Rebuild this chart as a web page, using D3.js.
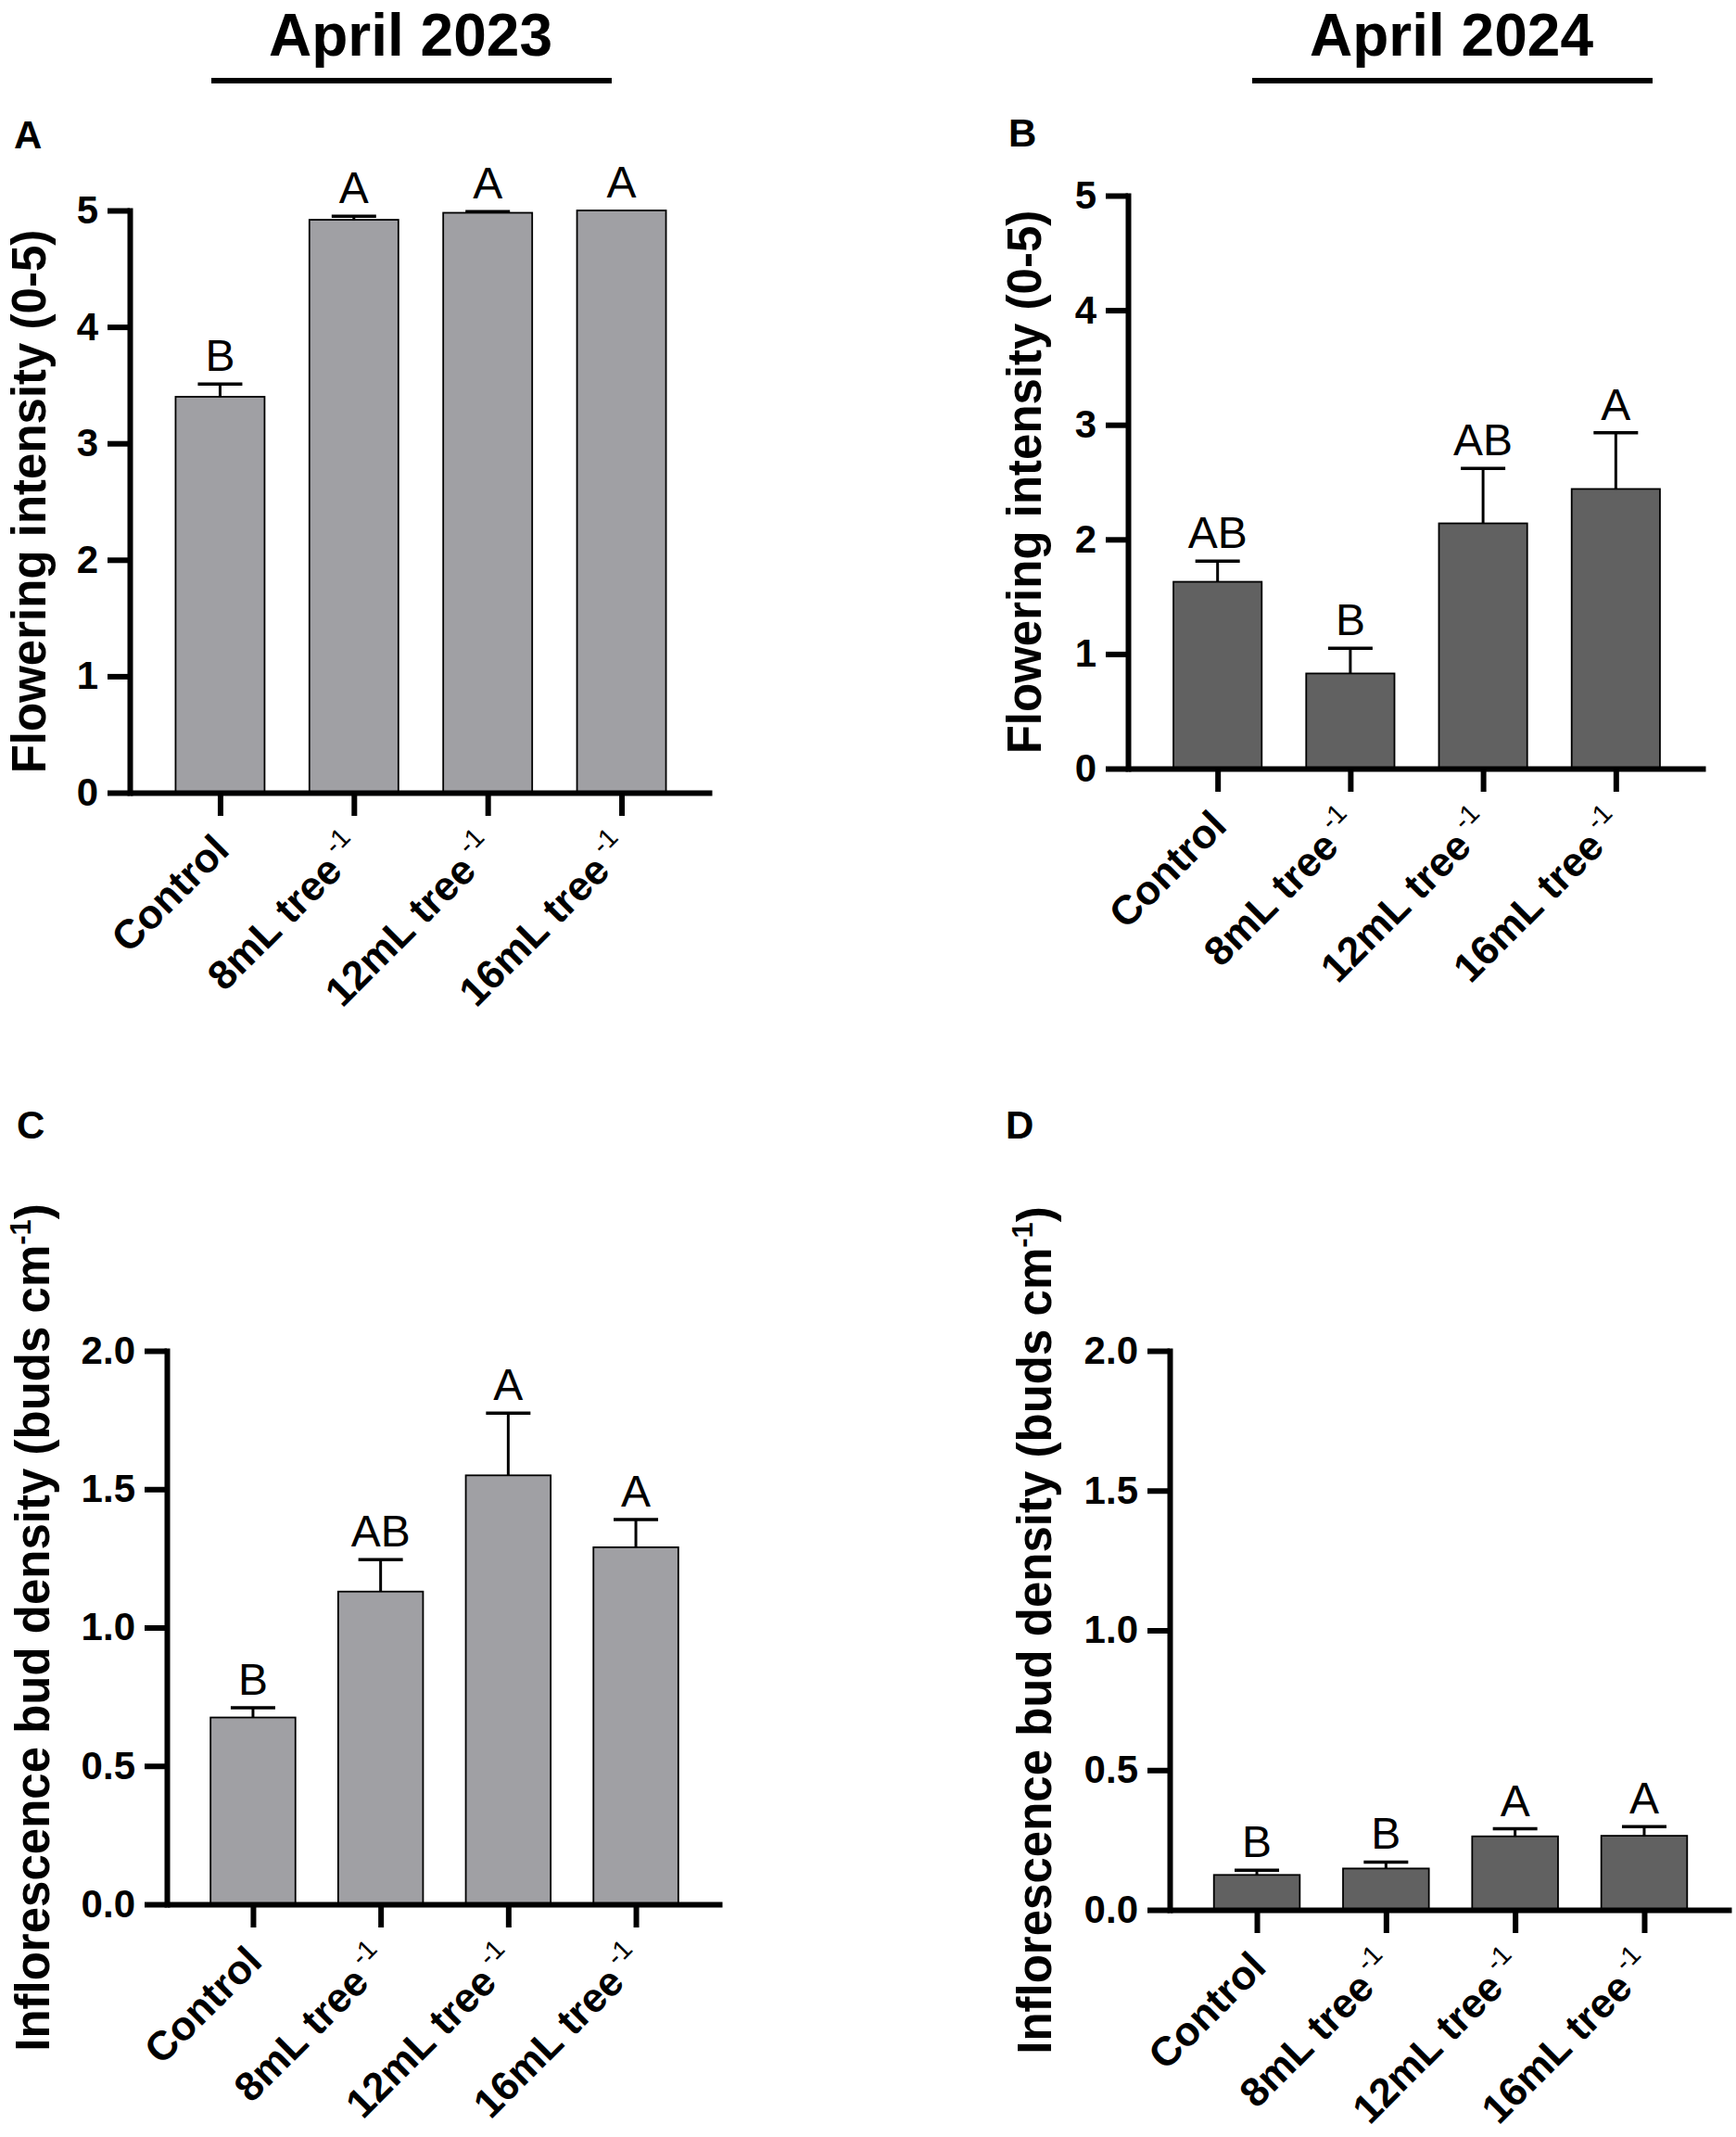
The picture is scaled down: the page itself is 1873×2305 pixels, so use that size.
<!DOCTYPE html>
<html>
<head>
<meta charset="utf-8">
<script src="https://cdn.jsdelivr.net/npm/d3@7"></script>
<style>
  body { margin: 0; background: #fff; }
  text { font-family: "Liberation Sans", Arial, sans-serif; }
</style>
</head>
<body>
<svg id="chart" width="1873" height="2305"></svg>
<script>
// treatments on the x axis (superscript part kept separate)
var categories = ["Control", "8mL tree", "12mL tree", "16mL tree"];
var catSuper = ["", "-1", "-1", "-1"];

// A: flowering intensity, April 2023
var intensity2023 = [3.40, 4.92, 4.98, 5.00];
var intensity2023Err = [0.11, 0.03, 0.01, 0];
var intensity2023Letters = ["B", "A", "A", "A"];

// B: flowering intensity, April 2024
var intensity2024 = [1.63, 0.83, 2.14, 2.44];
var intensity2024Err = [0.18, 0.22, 0.48, 0.49];
var intensity2024Letters = ["AB", "B", "AB", "A"];

// C: inflorescence bud density, April 2023
var density2023 = [0.675, 1.13, 1.55, 1.29];
var density2023Err = [0.035, 0.115, 0.225, 0.10];
var density2023Letters = ["B", "AB", "A", "A"];

// D: inflorescence bud density, April 2024
var density2024 = [0.125, 0.148, 0.263, 0.265];
var density2024Err = [0.017, 0.023, 0.027, 0.033];
var density2024Letters = ["B", "B", "A", "A"];

var intensityTicks = [0, 1, 2, 3, 4, 5];
var densityTicks = [0, 0.5, 1.0, 1.5, 2.0];

var svg = d3.select("#chart");

/* column headers */
var headers = [
    {text: "April 2023", cx: 443, x1: 228, x2: 660},
    {text: "April 2024", cx: 1566, x1: 1351, x2: 1783}
];
headers.forEach(function(h) {
    svg.append("text")
        .attr("x", h.cx).attr("y", 60)
        .attr("text-anchor", "middle")
        .style("font-size", "64px").style("font-weight", "bold")
        .text(h.text);
    svg.append("line")
        .attr("x1", h.x1).attr("x2", h.x2)
        .attr("y1", 87).attr("y2", 87)
        .attr("stroke", "#000").attr("stroke-width", 6);
});

function drawPanel(p) {
    var g = svg.append("g");

    var y = d3.scaleLinear().domain([0, p.ymax]).range([p.y0, p.y1]);
    var x = d3.scalePoint().domain(categories).range([p.ax, p.xEnd]).padding(0.675);
    var barW = x.step() * 0.665;

    // panel letter
    g.append("text")
        .attr("x", p.lx).attr("y", p.ly)
        .style("font-size", "42px").style("font-weight", "bold")
        .text(p.label);

    // bars
    g.selectAll("rect.bar")
        .data(p.values)
        .enter().append("rect")
        .attr("class", "bar")
        .attr("x", function(d, i) { return x(categories[i]) - barW / 2; })
        .attr("width", barW)
        .attr("y", function(d) { return y(d); })
        .attr("height", function(d) { return y(0) - y(d); })
        .attr("fill", p.fill)
        .attr("stroke", "#000")
        .attr("stroke-width", 1.8);

    // upper error bars + group letters
    p.values.forEach(function(v, i) {
        var cx = x(categories[i]);
        var top = y(v + p.err[i]);
        if (p.err[i] > 0) {
            g.append("line")
                .attr("x1", cx).attr("x2", cx)
                .attr("y1", y(v)).attr("y2", top)
                .attr("stroke", "#000").attr("stroke-width", 3);
            g.append("line")
                .attr("x1", cx - 24).attr("x2", cx + 24)
                .attr("y1", top).attr("y2", top)
                .attr("stroke", "#000").attr("stroke-width", 3.5);
        }
        g.append("text")
            .attr("x", cx).attr("y", top - 14)
            .attr("text-anchor", "middle")
            .style("font-size", "48px")
            .text(p.letters[i]);
    });

    // y axis
    var yAxis = g.append("g")
        .attr("transform", "translate(" + p.ax + ",0)")
        .call(d3.axisLeft(y)
            .tickValues(p.ticks)
            .tickFormat(p.fmt)
            .tickSize(24)
            .tickSizeOuter(0)
            .tickPadding(10));
    yAxis.select(".domain").attr("stroke-width", 6).attr("stroke-linecap", "square");
    yAxis.selectAll(".tick line").attr("stroke-width", 6);
    yAxis.selectAll(".tick text")
        .attr("fill", "#000")
        .style("font-size", "42px").style("font-weight", "bold")
        .style("font-family", "'Liberation Sans', Arial, sans-serif");

    // x axis
    var xAxis = g.append("g")
        .attr("transform", "translate(0," + p.y0 + ")")
        .call(d3.axisBottom(x).tickSize(25).tickSizeOuter(0).tickFormat(""));
    xAxis.select(".domain").attr("stroke-width", 6);
    xAxis.selectAll(".tick line").attr("stroke-width", 6);

    // rotated category labels
    categories.forEach(function(c, i) {
        var tx = x(c) + 12, ty = p.y0 + 64;
        var t = g.append("text")
            .attr("transform", "translate(" + tx + "," + ty + ") rotate(-45)")
            .attr("text-anchor", "end")
            .style("font-size", "44px").style("font-weight", "bold");
        t.append("tspan").text(c);
        if (catSuper[i]) {
            t.append("tspan")
                .attr("dx", 6).attr("dy", -20)
                .style("font-size", "29px").style("font-weight", "normal")
                .text(catSuper[i]);
        }
    });

    // y axis title
    var title = g.append("text")
        .attr("transform", "translate(" + p.tx + "," + ((p.y0 + p.y1) / 2) + ") rotate(-90)")
        .attr("text-anchor", "middle")
        .style("font-size", "51px").style("font-weight", "bold");
    title.append("tspan").text(p.title);
    if (p.titleSup) {
        title.append("tspan").attr("dy", -20).style("font-size", "31px").text(p.titleSup);
        title.append("tspan").attr("dy", 20).text(")");
    }
}

var light = "#a0a0a4", dark = "#616161";
var fmt0 = d3.format("d"), fmt1 = d3.format(".1f");

drawPanel({label: "A", lx: 15, ly: 160, values: intensity2023, err: intensity2023Err,
    letters: intensity2023Letters, ymax: 5, ticks: intensityTicks, fmt: fmt0,
    ax: 140, xEnd: 768, y0: 855, y1: 227, fill: light, tx: 49,
    title: "Flowering intensity (0-5)"});

drawPanel({label: "B", lx: 1088, ly: 158, values: intensity2024, err: intensity2024Err,
    letters: intensity2024Letters, ymax: 5, ticks: intensityTicks, fmt: fmt0,
    ax: 1217, xEnd: 1840, y0: 829, y1: 211, fill: dark, tx: 1123,
    title: "Flowering intensity (0-5)"});

drawPanel({label: "C", lx: 18, ly: 1228, values: density2023, err: density2023Err,
    letters: density2023Letters, ymax: 2, ticks: densityTicks, fmt: fmt1,
    ax: 180, xEnd: 779, y0: 2054, y1: 1457, fill: light, tx: 53,
    title: "Inflorescence bud density (buds cm", titleSup: "-1"});

drawPanel({label: "D", lx: 1085, ly: 1228, values: density2024, err: density2024Err,
    letters: density2024Letters, ymax: 2, ticks: densityTicks, fmt: fmt1,
    ax: 1262, xEnd: 1868, y0: 2060, y1: 1457, fill: dark, tx: 1134,
    title: "Inflorescence bud density (buds cm", titleSup: "-1"});
</script>
</body>
</html>
